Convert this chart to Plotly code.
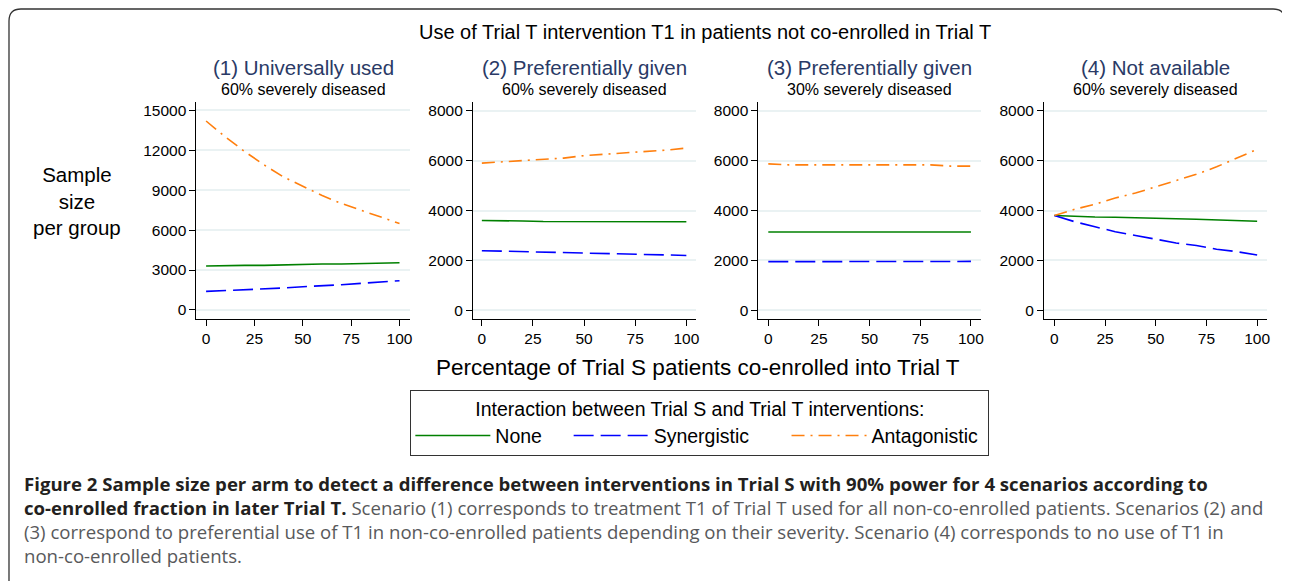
import plotly.graph_objects as go
from plotly.subplots import make_subplots

W, H = 1290, 581
OFF = 8  # page body margin of the html page

# percentage of Trial S patients co-enrolled into Trial T
pct = [0, 10, 20, 30, 40, 50, 60, 70, 80, 90, 100]

# (1) universally used, 60% severely diseased
p1_none = [3300, 3350, 3350, 3350, 3400, 3400, 3450, 3450, 3500, 3550, 3550]
p1_syn = [1400, 1450, 1500, 1550, 1650, 1750, 1800, 1900, 2000, 2100, 2200]
p1_ant = [14200, 13000, 11900, 10900, 10000, 9300, 8600, 8000, 7500, 7000, 6500]

# (2) preferentially given, 60% severely diseased
p2_none = [3600, 3600, 3580, 3560, 3560, 3560, 3550, 3550, 3550, 3550, 3550]
p2_syn = [2390, 2370, 2350, 2340, 2320, 2300, 2280, 2260, 2240, 2220, 2200]
p2_ant = [5900, 5950, 6000, 6050, 6100, 6200, 6250, 6300, 6350, 6420, 6500]

# (3) preferentially given, 30% severely diseased
p3_none = [3140, 3140, 3140, 3140, 3140, 3140, 3140, 3140, 3140, 3140, 3140]
p3_syn = [1950, 1950, 1950, 1950, 1950, 1950, 1950, 1950, 1950, 1950, 1960]
p3_ant = [5870, 5830, 5830, 5830, 5830, 5830, 5830, 5830, 5830, 5780, 5780]

# (4) not available, 60% severely diseased
p4_none = [3800, 3760, 3740, 3730, 3700, 3680, 3670, 3650, 3620, 3580, 3570]
p4_syn = [3800, 3550, 3350, 3150, 3000, 2850, 2700, 2600, 2450, 2350, 2220]
p4_ant = [3800, 4050, 4250, 4500, 4700, 4950, 5200, 5450, 5750, 6100, 6450]

panel_titles = ["(1) Universally used", "(2) Preferentially given",
                "(3) Preferentially given", "(4) Not available"]
panel_sub = ["60% severely diseased", "60% severely diseased",
             "30% severely diseased", "60% severely diseased"]
series_names = ["None", "Synergistic", "Antagonistic"]
panels = [(p1_none, p1_syn, p1_ant), (p2_none, p2_syn, p2_ant),
          (p3_none, p3_syn, p3_ant), (p4_none, p4_syn, p4_ant)]
y_ticks = [[0, 3000, 6000, 9000, 12000, 15000],
           [0, 2000, 4000, 6000, 8000],
           [0, 2000, 4000, 6000, 8000],
           [0, 2000, 4000, 6000, 8000]]
y_ranges = [[-655, 15650], [-335, 8360], [-335, 8360], [-335, 8360]]
x_ranges = [[-5, 105.3], [-4.4, 104.5], [-4.9, 105.1], [-5.1, 104.9]]
x_ticks = [0, 25, 50, 75, 100]

colors = ["#008000", "#0000ff", "#ff7f0e"]
dashes = ["solid", "20px,7px", "13px,6px,2px,6px"]
# trailing no-break spaces widen the legend entries like the original
pads = [4, 6, 1]
dom_px = [(197, 411), (474.3, 697.7), (760.7, 984.3), (1047.3, 1271)]
y_top, y_bot = 101.7, 318.7

FONT = "Liberation Sans, Arial, sans-serif"


def px(x):
    return (x - OFF) / W


def py(y):
    return 1 - (y - OFF) / H


def label(x, y, text, size, color="black", family=FONT, xanchor="center"):
    fig.add_annotation(x=px(x), y=py(y), xref="paper", yref="paper",
                       xanchor=xanchor, yanchor="middle", text=text,
                       showarrow=False,
                       font=dict(size=size, color=color, family=family))


fig = make_subplots(rows=1, cols=4)

for i, series in enumerate(panels):
    for j, vals in enumerate(series):
        fig.add_trace(go.Scatter(
            x=pct, y=vals, mode="lines",
            name=series_names[j] + "\u00a0" * pads[j],
            line=dict(color=colors[j], width=1.6, dash=dashes[j]),
            showlegend=(i == 0), legendgroup=series_names[j]),
            row=1, col=i + 1)

for i in range(4):
    x0, x1 = dom_px[i]
    fig.update_xaxes(domain=[px(x0), px(x1)], range=x_ranges[i],
                     tickvals=x_ticks, showgrid=False, zeroline=False,
                     showline=True, linecolor="black", linewidth=1,
                     ticks="outside", ticklen=6, tickcolor="black",
                     tickfont=dict(size=15.5, color="black"),
                     row=1, col=i + 1)
    fig.update_yaxes(domain=[py(y_bot), py(y_top)], range=y_ranges[i],
                     tickvals=y_ticks[i], tickformat="d",
                     showgrid=True, gridcolor="#eaf2f3", gridwidth=2,
                     zeroline=False, showline=True,
                     linecolor="black", linewidth=1, ticks="outside",
                     ticklen=6, tickcolor="black",
                     tickfont=dict(size=15.5, color="black"),
                     row=1, col=i + 1)
    cx = (x0 + x1) / 2
    label(cx, 67, panel_titles[i], 20.5, color="#2a3a66")
    label(cx, 90, panel_sub[i], 16)

label(707, 32, "Use of Trial T intervention T1 in patients not co-enrolled in Trial T", 20)
label(77, 201, "Sample<br>size<br>per group", 20.5)
label(700, 367, "Percentage of Trial S patients co-enrolled into Trial T", 22.5)

# caption
cap_font = "Open Sans, sans-serif"
B = '<span style="color:#231f20"><b>{}</b></span>'
caption = [
    B.format("Figure 2 Sample size per arm to detect a difference between "
             "interventions in Trial S with 90% power for 4 scenarios according to"),
    B.format("co-enrolled fraction in later Trial T.") +
    " Scenario (1) corresponds to treatment T1 of Trial T used for all "
    "non-co-enrolled patients. Scenarios (2) and",
    "(3) correspond to preferential use of T1 in non-co-enrolled patients "
    "depending on their severity. Scenario (4) corresponds to no use of T1 in",
    "non-co-enrolled patients.",
]
for k, line in enumerate(caption):
    label(22, 483 + 24 * k, line, 18.6, color="#58595b", family=cap_font,
          xanchor="left")

# rounded outer frame
bx0, bx1, by0, by1, r = 9, 1289, 9, 600, 12
path = (f"M {px(bx0 + r)},{py(by0)} L {px(bx1 - r)},{py(by0)} "
        f"Q {px(bx1)},{py(by0)} {px(bx1)},{py(by0 + r)} "
        f"L {px(bx1)},{py(by1 - r)} Q {px(bx1)},{py(by1)} {px(bx1 - r)},{py(by1)} "
        f"L {px(bx0 + r)},{py(by1)} Q {px(bx0)},{py(by1)} {px(bx0)},{py(by1 - r)} "
        f"L {px(bx0)},{py(by0 + r)} Q {px(bx0)},{py(by0)} {px(bx0 + r)},{py(by0)} Z")
fig.add_shape(type="path", path=path, xref="paper", yref="paper",
              line=dict(color="#333333", width=1.3))

fig.update_layout(
    width=W, height=H, margin=dict(l=0, r=0, t=0, b=0),
    paper_bgcolor="white", plot_bgcolor="white",
    font=dict(family=FONT, color="black"),
    legend=dict(orientation="h", x=px(702), xanchor="center",
                y=py(390), yanchor="top",
                title=dict(text="Interaction between Trial S and Trial T interventions:",
                           side="top center", font=dict(size=19.5)),
                font=dict(size=19.5), bordercolor="#333333", borderwidth=1,
                bgcolor="white", itemwidth=75),
)

fig.write_html("out.html")
